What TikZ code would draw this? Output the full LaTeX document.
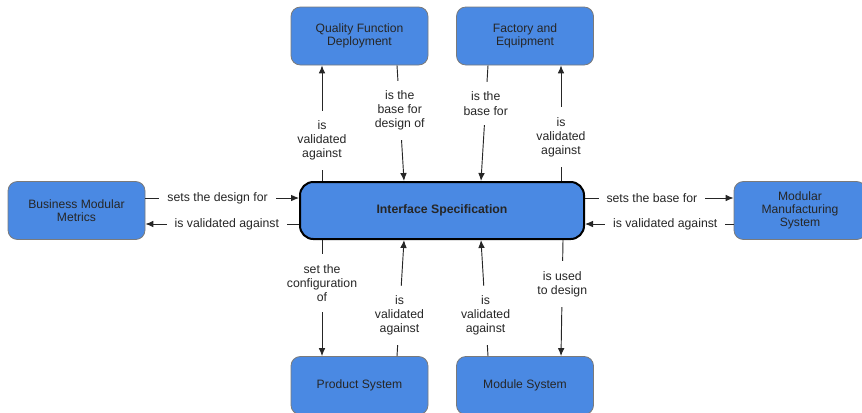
\documentclass[tikz,border=0pt]{standalone}
\usepackage{fontspec}
\setmainfont{Liberation Sans}
\usetikzlibrary{arrows.meta,calc}
\definecolor{boxblue}{HTML}{4A89E3}
\definecolor{boxline}{HTML}{7A7A7A}
\begin{document}
\begin{tikzpicture}[x=0.75pt,y=-0.75pt,
  box/.style={draw=boxline, line width=0.6pt, fill=boxblue, rounded corners=7pt, minimum width=102.75pt, minimum height=43.5pt, align=center, font=\fontsize{9.1pt}{9.9pt}\selectfont, text=black!85},
  mainbox/.style={draw=black, line width=1.5pt, fill=boxblue, rounded corners=10pt, minimum width=213pt, minimum height=42.75pt, align=center, font=\fontsize{9.2pt}{10pt}\selectfont\bfseries, text=black!85},
  lbl/.style={fill=white, align=center, inner xsep=2pt, inner ysep=7.5pt, font=\fontsize{9.2pt}{10.6pt}\selectfont, text=black!85},
  hlbl/.style={fill=white, align=center, inner xsep=6pt, inner ysep=1pt, font=\fontsize{9.2pt}{10.6pt}\selectfont, text=black!85},
  conn/.style={line width=0.7pt, -{Latex[length=6pt,width=5pt]}, black!85}]
\useasboundingbox (0,0) rectangle (862,412);
\node[box] (qfd) at (359.5,36) {Quality Function\\Deployment};
\node[box] (fac) at (525,36) {Factory and\\Equipment};
\node[box] (bmm) at (76.5,210.5) {Business Modular\\Metrics};
\node[box, minimum width=99pt] (mms) at (800,210.5) {Modular\\Manufacturing\\System};
\node[box] (ps) at (359.5,385.5) {Product System};
\node[box] (ms) at (525,385.5) {Module System};
\node[mainbox] (is) at (442,210.5) {Interface Specification};
% top
\draw[conn] ($(is.north)+(-120,0)$) -- node[lbl, pos=0.35] {is\\validated\\against} ($(qfd.south)+(-37.5,0)$);
\draw[conn] ($(qfd.south)+(37.5,0)$) -- node[lbl, pos=0.39] {is the\\base for\\design of} ($(is.north)+(-38,0)$);
\draw[conn] ($(fac.south)+(-37,0)$) -- node[lbl, pos=0.33] {is the\\base for} ($(is.north)+(39,0)$);
\draw[conn] ($(is.north)+(119,0)$) -- node[lbl, pos=0.38] {is\\validated\\against} ($(fac.south)+(36,0)$);
% left
\draw[conn] ($(bmm.east)+(0,-12.5)$) -- node[hlbl, pos=0.47] {sets the design for} ($(is.west)+(0,-12.5)$);
\draw[conn] ($(is.west)+(0,13.5)$) -- node[hlbl, pos=0.47] {is validated against} ($(bmm.east)+(0,13.5)$);
% right
\draw[conn] ($(is.east)+(0,-12.5)$) -- node[hlbl, pos=0.45] {sets the base for} ($(mms.west)+(0,-12.5)$);
\draw[conn] ($(mms.west)+(0,13.5)$) -- node[hlbl, pos=0.46] {is validated against} ($(is.east)+(0,13.5)$);
% bottom
\draw[conn] ($(is.south)+(-120,0)$) -- node[lbl, pos=0.37] {set the\\configuration\\of} ($(ps.north)+(-37.5,0)$);
\draw[conn] ($(ps.north)+(37.5,0)$) -- node[lbl, pos=0.35] {is\\validated\\against} ($(is.south)+(-38,0)$);
\draw[conn] ($(ms.north)+(-37,0)$) -- node[lbl, pos=0.35] {is\\validated\\against} ($(is.south)+(39,0)$);
\draw[conn] ($(is.south)+(121,0)$) -- node[lbl, pos=0.38] {is used\\to design} ($(ms.north)+(36,0)$);
\end{tikzpicture}
\end{document}
